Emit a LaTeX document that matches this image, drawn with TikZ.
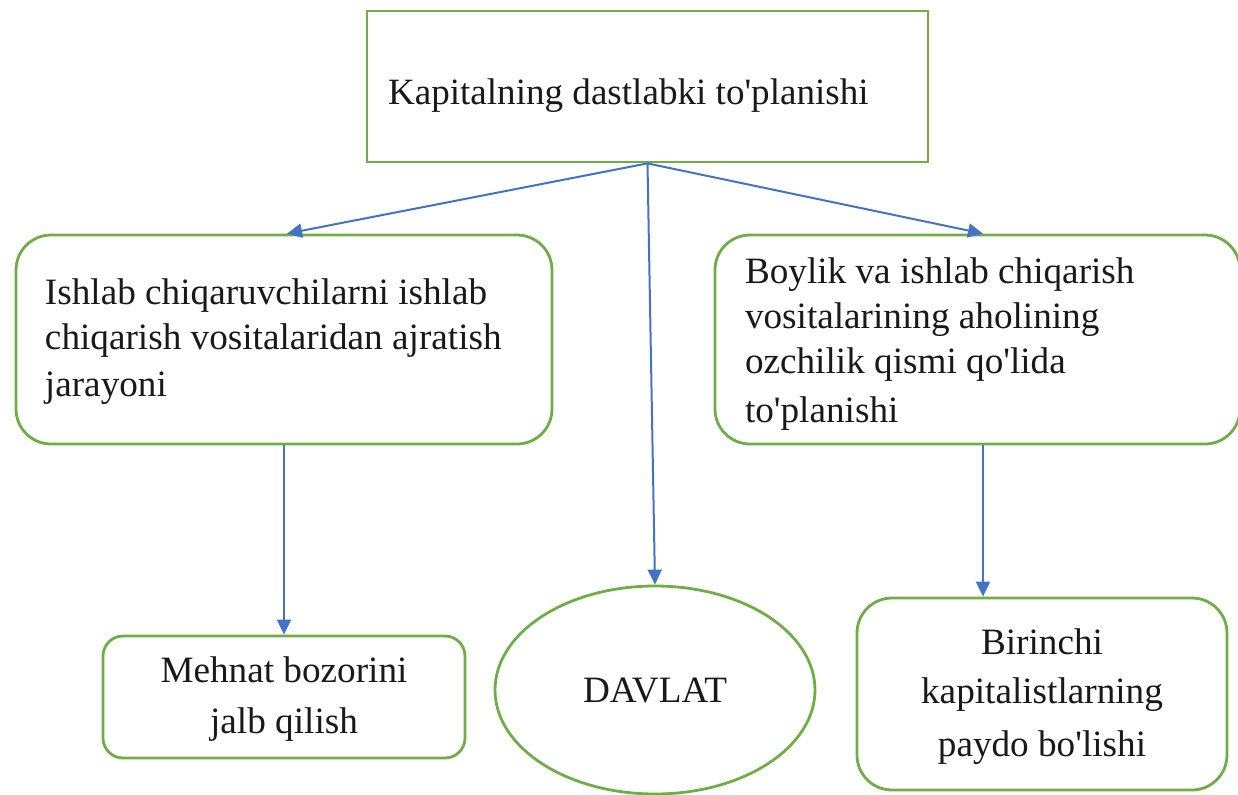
\documentclass[tikz,border=0pt]{standalone}
\usepackage{fontspec}
\setmainfont{Liberation Serif}
\usetikzlibrary{arrows.meta,shapes.geometric}
\definecolor{boxgreen}{HTML}{70AD47}
\definecolor{arrblue}{HTML}{4472C4}
\newcommand{\ap}{\textquotesingle}
\newcommand{\lowtext}[3]{\raisebox{#1}[\height][\depth]{\parbox{#2}{#3}}}
\begin{document}
\begin{tikzpicture}[x=0.5pt,y=-0.5pt,
  box/.style={draw=boxgreen,line width=1.4pt,inner sep=0pt,text=black!90},
  conn/.style={draw=arrblue,line width=1pt,-{Triangle[length=7.5pt,width=7pt]}}
]
\useasboundingbox (0,0) rectangle (1238,794);
\node[box,rectangle,minimum width=280.5pt,minimum height=75.5pt,font=\fontsize{18.55}{22.5}\selectfont] (top)
  at (647.5,86.5) {\lowtext{-4.5pt}{259.5pt}{\raggedright Kapitalning dastlabki to\ap planishi}};
\node[box,rounded corners=17.5pt,minimum width=268pt,minimum height=104.5pt,font=\fontsize{18.6}{22.5}\selectfont] (left)
  at (284,339.5) {\lowtext{-1pt}{239pt}{\raggedright Ishlab chiqaruvchilarni ishlab\\chiqarish vositalaridan ajratish\\[1pt]jarayoni}};
\node[box,rounded corners=17.5pt,minimum width=262.5pt,minimum height=104.5pt,font=\fontsize{18.6}{22.5}\selectfont] (right)
  at (977.5,339.5) {\lowtext{-2.5pt}{232.5pt}{\raggedright Boylik va ishlab chiqarish\\vositalarining aholining\\ozchilik qismi qo\ap lida\\[2pt]to\ap planishi}};
\node[box,rounded corners=10pt,minimum width=181pt,minimum height=61pt,font=\fontsize{18.6}{25.5}\selectfont] (mehnat)
  at (284,697) {\lowtext{-1pt}{170pt}{\centering Mehnat bozorini\\jalb qilish}};
\node[box,ellipse,minimum width=160pt,minimum height=104pt,font=\fontsize{18.6}{20}\selectfont] (davlat)
  at (655,690) {DAVLAT};
\node[box,rounded corners=17.5pt,minimum width=185pt,minimum height=96pt,font=\fontsize{18.6}{24.5}\selectfont] (birinchi)
  at (1042,694) {\lowtext{-1.5pt}{175pt}{\centering Birinchi\\kapitalistlarning\\[2pt]paydo bo\ap lishi}};
\draw[conn] (top.south) -- ([xshift=1.5pt]left.north);
\draw[conn] (top.south) -- (davlat.north);
\draw[conn] (top.south) -- ([xshift=2.75pt]right.north);
\draw[conn] (left.south) -- (mehnat.north);
\coordinate (rs) at ([xshift=2.75pt]right.south);
\draw[conn] (rs) -- (rs |- birinchi.north);
\end{tikzpicture}
\end{document}
